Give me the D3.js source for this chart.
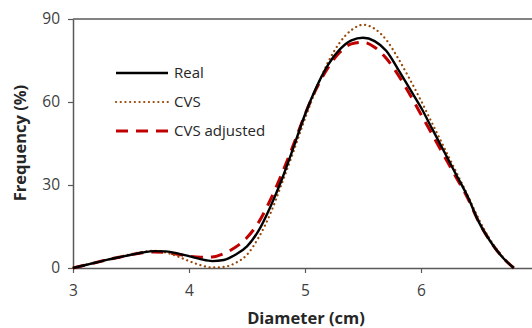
<!DOCTYPE html>
<html>
<head>
<meta charset="utf-8">
<script src="https://cdn.jsdelivr.net/npm/d3@7"></script>
<style>
  body { margin: 0; background: #fff; }
  svg { display: block; font-family: "Open Sans", sans-serif; }
</style>
</head>
<body>
<svg id="chart" width="532" height="328"></svg>
<script>
// diameter (cm)
const diameter = [3.0, 3.1, 3.2, 3.3, 3.4, 3.5, 3.6, 3.7, 3.8, 3.9,
  4.0, 4.1, 4.2, 4.3, 4.4, 4.5, 4.6, 4.7, 4.8, 4.9,
  5.0, 5.1, 5.2, 5.3, 5.4, 5.5, 5.6, 5.7, 5.8, 5.9,
  6.0, 6.1, 6.2, 6.3, 6.4, 6.5, 6.6, 6.7, 6.8];

// frequency (%)
const real = [0, 1.0, 2.0, 3.0, 3.9, 4.8, 5.6, 6.1, 6.0, 5.3,
  4.3, 3.2, 2.5, 2.9, 4.8, 7.8, 13.5, 22, 32, 43.5,
  55.5, 65.5, 73.5, 79, 82.3, 83.2, 82, 78.5, 72, 65,
  58, 50, 42, 34, 26, 16.5, 9.5, 4, 0];

const cvs = [0, 1.1, 2.1, 3.1, 4.1, 5.0, 5.8, 6.2, 5.6, 4.2,
  2.5, 1.0, 0.2, 0.4, 1.8, 4.8, 11, 19.5, 30.5, 42,
  54, 65, 74.5, 81.5, 86, 87.9, 86.5, 82.5, 76, 68.5,
  60.5, 52, 43.5, 35, 26.5, 17.5, 10, 4.3, 0];

const cvsAdj = [0, 1.0, 2.0, 3.0, 3.9, 4.8, 5.5, 5.8, 5.6, 5.0,
  4.3, 3.9, 4.0, 5.2, 7.5, 11, 16.5, 24.5, 34, 44.5,
  55.5, 65, 72.5, 78, 81, 81.6, 79.8, 75.8, 70, 63,
  55.5, 48, 40.5, 33, 25.5, 16.5, 9.5, 4, 0];

const xTicks = [3, 4, 5, 6];
const yTicks = [0, 30, 60, 90];

const seriesNames = ["Real", "CVS", "CVS adjusted"];

const svg = d3.select("#chart");
const m = { left: 73, top: 19, bottom: 268 };

// x axis runs to 7, the right part is cut off by the picture edge
const x = d3.scaleLinear().domain([3, 7]).range([m.left, m.left + 4 * 116]);
const y = d3.scaleLinear().domain([0, 90]).range([m.bottom, m.top]);

const textColor = "#404040";
const axisColor = "#595959";

// frame top line
svg.append("line")
  .attr("x1", x(3)).attr("x2", x(7))
  .attr("y1", y(90)).attr("y2", y(90))
  .attr("stroke", axisColor).attr("stroke-width", 1.5);

const gx = svg.append("g")
  .attr("transform", `translate(0,${y(0)})`)
  .call(d3.axisBottom(x).tickValues(xTicks).tickSize(5).tickSizeOuter(0).tickFormat(d3.format("d")));
const gy = svg.append("g")
  .attr("transform", `translate(${x(3)},0)`)
  .call(d3.axisLeft(y).tickValues(yTicks).tickSize(5).tickSizeOuter(0));

[gx, gy].forEach(g => {
  g.select(".domain").attr("stroke", axisColor).attr("stroke-width", 1.5);
  g.selectAll(".tick line").attr("stroke", axisColor).attr("stroke-width", 1.2);
  g.selectAll(".tick text")
    .attr("fill", textColor)
    .style("font-size", "15.5px")
    .style("font-family", "'Open Sans', sans-serif");
});
gx.selectAll(".tick text").attr("dy", "1.3em");
gy.selectAll(".tick text").attr("dx", "-5px");

// axis titles
svg.append("text")
  .attr("x", 306).attr("y", 324)
  .attr("text-anchor", "middle")
  .attr("font-weight", "bold").attr("font-size", "16.5px")
  .attr("fill", "#262626")
  .text("Diameter (cm)");
svg.append("text")
  .attr("transform", `translate(26,143) rotate(-90)`)
  .attr("text-anchor", "middle")
  .attr("font-weight", "bold").attr("font-size", "16.5px")
  .attr("fill", "#262626")
  .text("Frequency (%)");

const styles = [
  { color: "#000000", width: 2.4, dash: null, cap: "butt" },
  { color: "#984807", width: 2.2, dash: "0.1,4.6", cap: "round" },
  { color: "#c00000", width: 3, dash: "12,8", cap: "butt" }
];
const data = [real, cvs, cvsAdj];

const line = d3.line()
  .x((d, i) => x(diameter[i]))
  .y(d => y(d))
  .curve(d3.curveMonotoneX);

[2, 1, 0].forEach(k => {
  svg.append("path")
    .datum(data[k])
    .attr("d", line)
    .attr("fill", "none")
    .attr("stroke", styles[k].color)
    .attr("stroke-width", styles[k].width)
    .attr("stroke-linecap", styles[k].cap)
    .attr("stroke-dasharray", styles[k].dash);
});

// legend
const legend = svg.append("g");
seriesNames.forEach((name, k) => {
  const ly = 73 + k * 29;
  legend.append("line")
    .attr("x1", 116).attr("x2", 168)
    .attr("y1", ly).attr("y2", ly)
    .attr("stroke", styles[k].color)
    .attr("stroke-width", styles[k].width)
    .attr("stroke-linecap", styles[k].cap)
    .attr("stroke-dasharray", styles[k].dash);
  legend.append("text")
    .attr("x", 174).attr("y", ly)
    .attr("dy", "0.35em")
    .attr("font-size", "15px")
    .attr("fill", "#262626")
    .text(name);
});
</script>
</body>
</html>
